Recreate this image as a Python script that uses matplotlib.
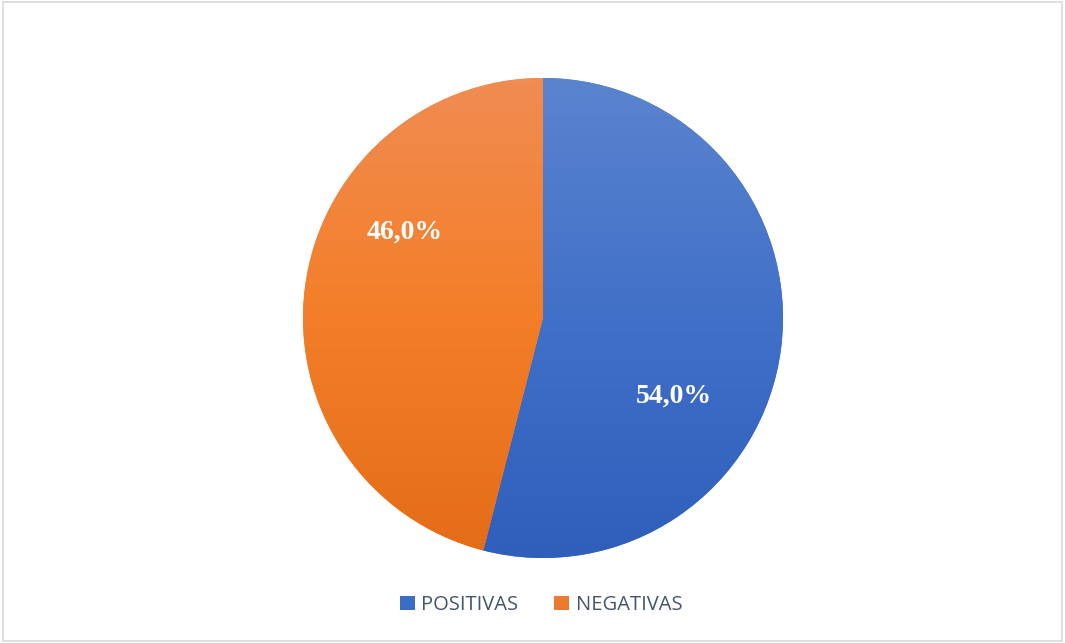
import matplotlib
matplotlib.use("Agg")
import matplotlib.pyplot as plt
import numpy as np
from matplotlib.patches import Patch, Rectangle
from matplotlib.colors import LinearSegmentedColormap

categories = ["POSITIVAS", "NEGATIVAS"]
values = [54.0, 46.0]
value_labels = ["54,0%", "46,0%"]

W, H = 1065, 643
fig = plt.figure(figsize=(W / 100, H / 100), dpi=100)
fig.patch.set_facecolor("white")

# chart-area border
fig.add_artist(Rectangle((3 / W, 2 / H), (W - 6) / W, (H - 4) / H,
                         transform=fig.transFigure, fill=False,
                         edgecolor="#d9d9d9", linewidth=1.2))

cx, cy, r = 543, 318, 240
ax = fig.add_axes([(cx - r) / W, (H - cy - r) / H, 2 * r / W, 2 * r / H])

wedges, _ = ax.pie(values, startangle=90, counterclock=False, radius=1.0,
                   colors=["#4472c4", "#ed7d31"],
                   wedgeprops=dict(linewidth=0))
ax.set_aspect("equal")
ax.axis("off")

grads = [("#5b84cf", "#4170c8", "#2f5fbb"), ("#f08c52", "#f47e27", "#e46c18")]
grad = np.linspace(0, 1, 256).reshape(-1, 1)
for w, stops in zip(wedges, grads):
    cmap = LinearSegmentedColormap.from_list("g", list(stops))
    im = ax.imshow(grad, extent=(-1, 1, -1, 1), cmap=cmap, aspect="auto",
                   origin="upper", zorder=2, interpolation="bilinear")
    im.set_clip_path(w)
ax.set_xlim(-1, 1)
ax.set_ylim(-1, 1)

label_pos = [(0.546, -0.325), (-0.575, 0.358)]
for lab, (x, y) in zip(value_labels, label_pos):
    ax.text(x, y, lab, ha="center", va="center", color="white",
            fontsize=20, fontweight="bold", family="Liberation Serif", zorder=5)

handles = [Patch(facecolor=c, edgecolor="none") for c in ["#3b6cc6", "#ee7a2f"]]
fig.legend(handles, categories, loc="center", bbox_to_anchor=(0.508, 1 - 605 / H),
           ncol=2, frameon=False, handlelength=0.75, handleheight=0.75,
           handletextpad=0.3, columnspacing=1.8,
           prop={"family": "Open Sans", "size": 14.5}, labelcolor="#44546a")

fig.savefig("out.png", dpi=100, facecolor="white")
